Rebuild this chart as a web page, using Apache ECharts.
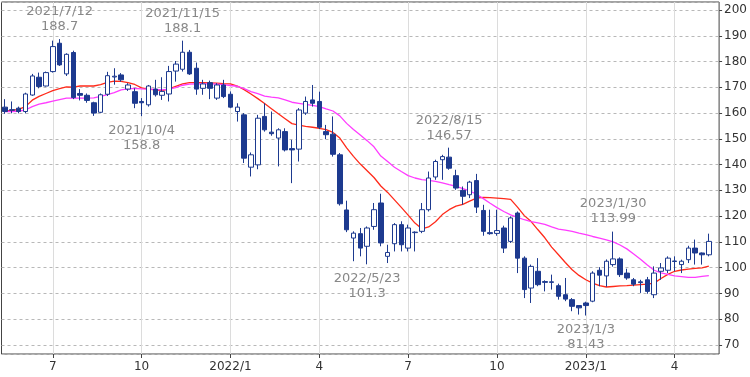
<!DOCTYPE html>
<html lang="ja">
<head>
<meta charset="UTF-8">
<title>週足チャート</title>
<script src="https://cdn.jsdelivr.net/npm/echarts@6/dist/echarts.min.js"></script>
<style>html,body{margin:0;padding:0;background:#fff;}</style>
</head>
<body>
<div id="main" style="width:750px;height:377px;"></div>
<script>
// weekly candles, Monday dates from 2021/5/17 to 2023/5/8
var dates = [];
var d = new Date(Date.UTC(2021, 4, 17));
for (var i = 0; i < 104; i++) {
    dates.push(d.getUTCFullYear() + '/' + (d.getUTCMonth() + 1) + '/' + d.getUTCDate());
    d.setUTCDate(d.getUTCDate() + 7);
}

var opens = [
    162.3, 161.3, 161.9, 160.6, 167.0, 173.9, 170.5, 176.1, 187.1, 175.2,
    183.5, 167.6, 166.9, 164.0, 160.3, 167.3, 174.0, 174.8, 169.3, 168.3,
    164.5, 163.2, 169.3, 166.9, 167.4, 176.3, 177.0, 183.6, 177.4, 169.6,
    171.8, 165.8, 170.9, 167.3, 160.6, 159.3, 139.0, 139.9, 158.7, 152.6,
    150.3, 152.8, 146.2, 146.0, 160.0, 165.1, 164.5, 152.8, 151.8, 143.8,
    122.4, 111.5, 113.2, 108.3, 116.0, 125.1, 104.4, 109.3, 116.7, 107.6,
    113.6, 114.1, 122.5, 135.2, 141.9, 142.9, 135.7, 130.0, 128.3, 133.8,
    122.2, 113.6, 113.3, 115.4, 110.2, 121.2, 103.7, 92.1, 98.6, 94.6,
    94.5, 93.0, 89.5, 87.6, 85.3, 86.3, 87.0, 99.0, 96.8, 101.2,
    103.4, 97.9, 95.3, 94.5, 95.3, 89.5, 98.6, 99.0, 102.6, 101.2,
    103.1, 107.6, 105.7, 105.0
];
var closes = [
    160.6, 161.1, 160.6, 167.4, 174.4, 170.3, 175.7, 185.8, 178.7, 182.8,
    166.0, 166.9, 164.9, 160.0, 167.1, 174.5, 174.3, 172.9, 170.9, 163.8,
    164.0, 170.5, 167.1, 168.4, 176.1, 179.0, 183.6, 175.2, 169.3, 171.3,
    169.6, 170.9, 166.4, 162.3, 162.3, 142.5, 143.8, 158.0, 153.5, 152.0,
    153.5, 145.7, 145.7, 161.2, 164.5, 163.8, 154.5, 151.6, 144.0, 124.8,
    114.7, 113.4, 107.6, 115.4, 122.5, 109.6, 105.9, 116.7, 108.9, 115.4,
    113.8, 122.5, 134.8, 141.2, 143.1, 138.6, 130.9, 127.7, 133.2, 123.5,
    114.1, 113.2, 114.4, 107.6, 119.3, 103.7, 91.5, 100.5, 93.4, 94.3,
    94.3, 88.9, 87.8, 85.0, 84.4, 85.3, 97.9, 97.1, 102.5, 103.4,
    97.3, 96.0, 93.6, 94.2, 90.8, 97.9, 99.9, 103.7, 102.4, 102.5,
    107.6, 105.7, 105.0, 110.2
];
var lows = [
    159.7, 159.9, 159.9, 159.9, 166.7, 169.6, 170.3, 175.7, 178.3, 174.4,
    165.4, 164.9, 164.0, 158.9, 160.0, 166.6, 171.0, 172.2, 168.6, 161.9,
    158.8, 162.5, 166.4, 165.1, 164.5, 172.2, 176.1, 174.8, 167.1, 167.1,
    165.4, 165.1, 165.8, 161.9, 156.7, 140.6, 135.4, 138.2, 152.8, 151.2,
    139.3, 145.1, 132.8, 141.2, 159.3, 162.5, 153.8, 149.9, 143.1, 124.1,
    113.8, 102.5, 104.4, 101.3, 114.7, 108.3, 101.8, 106.3, 106.3, 106.3,
    106.3, 113.4, 121.8, 134.1, 134.1, 138.0, 130.2, 124.4, 127.0, 121.2,
    112.4, 112.8, 112.4, 105.7, 109.6, 97.9, 88.2, 86.3, 92.8, 90.8,
    91.5, 87.6, 87.0, 83.1, 81.8, 81.43, 86.6, 92.8, 92.6, 100.4,
    96.4, 95.3, 92.8, 90.2, 89.9, 88.2, 95.3, 97.9, 98.6, 97.9,
    101.8, 101.2, 101.2, 104.4
];
var highs = [
    165.4, 164.5, 162.5, 167.9, 175.2, 175.7, 176.1, 188.1, 188.7, 183.2,
    184.2, 169.3, 167.6, 164.4, 167.6, 176.0, 177.4, 175.5, 171.6, 169.6,
    165.8, 170.9, 172.9, 173.9, 178.3, 180.2, 188.1, 184.5, 179.6, 172.9,
    172.6, 171.6, 172.9, 168.4, 163.8, 160.0, 144.7, 159.3, 163.8, 160.6,
    154.1, 154.1, 149.6, 161.9, 166.4, 170.9, 168.3, 155.4, 158.7, 144.5,
    126.0, 114.1, 115.4, 116.0, 125.1, 128.7, 108.9, 117.3, 118.0, 116.7,
    114.1, 125.1, 137.3, 141.9, 143.8, 146.57, 138.0, 131.5, 133.7, 136.4,
    124.4, 122.5, 122.5, 116.3, 119.9, 121.8, 104.4, 101.2, 103.7, 95.1,
    97.3, 93.8, 96.0, 88.2, 85.3, 86.8, 98.6, 100.2, 103.2, 113.99,
    104.0, 99.6, 96.0, 95.3, 96.4, 100.5, 101.8, 104.4, 104.4, 103.1,
    108.5, 110.9, 105.9, 113.2
];

var maShort = [
    160.8, 161.0, 161.4, 162.5, 165.0, 166.5, 167.6, 168.7, 169.5, 170.2,
    170.1, 170.5, 170.5, 170.5, 171.0, 171.9, 172.4, 172.3, 171.8, 171.1,
    169.8, 169.3, 169.0, 168.7, 169.4, 170.4, 171.3, 171.8, 171.8, 171.8,
    171.7, 171.6, 171.4, 171.3, 170.5, 169.1, 167.4, 165.6, 163.7, 161.7,
    159.7, 157.8, 155.9, 155.3, 154.8, 154.5, 154.1, 153.6, 152.5, 150.3,
    146.5, 143.2, 140.2, 137.6, 135.0, 131.7, 129.2, 126.3, 123.4, 120.4,
    117.3, 115.1, 115.8, 117.8, 120.6, 122.5, 123.9, 124.6, 125.8, 127.0,
    127.3, 127.2, 127.0, 126.8, 126.5, 123.5, 120.2, 117.9, 114.7, 111.6,
    108.0, 105.0, 102.0, 99.2, 97.0, 95.3, 94.0, 93.0, 92.5, 92.7,
    92.9, 93.0, 93.2, 93.4, 93.6, 94.0, 95.8, 97.4, 98.6, 99.1,
    99.4, 99.7, 99.9, 100.6
];
var maLong = [
    160.6, 160.6, 160.7, 161.2, 162.5, 163.5, 164.0, 164.6, 165.2, 165.8,
    165.8, 165.8, 165.8, 165.9, 166.5, 167.2, 167.9, 169.0, 169.4, 169.6,
    169.4, 169.3, 169.2, 169.0, 169.3, 169.9, 170.8, 171.2, 171.3, 171.3,
    171.3, 171.2, 171.0, 170.7, 170.4, 169.5, 168.3, 167.5, 166.6, 166.2,
    165.9, 165.1, 164.2, 163.8, 163.4, 163.0, 162.5, 161.6, 160.8, 158.9,
    156.0, 153.6, 151.5, 149.3, 146.9, 143.3, 141.2, 139.0, 137.3, 135.7,
    134.8, 134.2, 133.9, 133.5, 132.9, 132.2, 131.6, 130.7, 129.8, 128.5,
    126.8, 125.0, 123.3, 121.8, 120.5, 119.5, 118.6, 117.9, 117.4, 116.8,
    115.8, 115.0, 114.6, 114.1, 113.4, 112.8, 112.1, 111.5, 110.8, 110.0,
    108.8, 107.3, 105.3, 103.3, 101.0, 99.0, 98.0, 97.4, 96.8, 96.5,
    96.2, 96.2, 96.6, 96.9
];

// quarter ticks on the x axis
var tickDates = ['2021/7/5', '2021/10/4', '2022/1/3', '2022/4/4', '2022/7/4', '2022/10/3', '2023/1/2', '2023/4/3'];
var tickLabels = ['7', '10', '2022/1', '4', '7', '10', '2023/1', '4'];

// high / low notes
var noteDates = ['2021/7/12', '2021/11/15', '2021/10/4', '2022/5/23', '2022/8/15', '2023/1/2', '2023/1/30'];
var noteNames = ['2021/7/12', '2021/11/15', '2021/10/4', '2022/5/23', '2022/8/15', '2023/1/3', '2023/1/30'];
var noteValues = ['188.7', '188.1', '158.8', '101.3', '146.57', '81.43', '113.99'];
var noteSides = ['top', 'top', 'bottom', 'bottom', 'top', 'bottom', 'top'];

var cats = dates.concat(['']);
var candles = [];
for (var i = 0; i < dates.length; i++) {
    candles.push([opens[i], closes[i], lows[i], highs[i]]);
}
var tickMap = {};
for (var i = 0; i < tickDates.length; i++) tickMap[tickDates[i]] = tickLabels[i];
function isTick(idx, val) { return tickMap[val] !== undefined; }

var notes = [];
for (var i = 0; i < noteDates.length; i++) {
    var v = parseFloat(noteValues[i]);
    notes.push({
        coord: [noteDates[i], v],
        label: {
            show: true,
            position: noteSides[i],
            distance: noteSides[i] == 'top' ? 5 : 7,
            formatter: noteNames[i] + '\n' + noteValues[i]
        }
    });
}

var navy = '#1d3a8f';
var myChart = echarts.init(document.getElementById('main'));
var option = {
    animation: false,
    backgroundColor: '#fff',
    grid: {
        left: 1.5, right: 29.7, top: 2, bottom: 23,
        show: true, borderColor: '#444', borderWidth: 1
    },
    xAxis: {
        type: 'category',
        data: cats,
        boundaryGap: true,
        axisLine: {show: false},
        axisTick: {show: true, interval: isTick, alignWithLabel: true, length: 4, lineStyle: {color: '#444'}},
        axisLabel: {
            interval: isTick, margin: 7, color: '#333', fontSize: 12, fontFamily: 'DejaVu Sans',
            formatter: function (val) { return tickMap[val] || ''; }
        },
        splitLine: {show: true, interval: isTick, alignWithLabel: true, lineStyle: {color: '#dcdcdc'}}
    },
    yAxis: {
        type: 'value',
        position: 'right',
        min: 66.5,
        max: 203.1,
        splitNumber: 13,
        axisLine: {show: false},
        axisTick: {show: true, length: 3, lineStyle: {color: '#444'}},
        axisLabel: {color: '#333', fontSize: 12, fontFamily: 'DejaVu Sans', margin: 5, showMinLabel: false, showMaxLabel: false},
        splitLine: {show: true, lineStyle: {color: '#b8b8b8', type: [3, 3]}}
    },
    series: [
        {
            name: 'MA13',
            type: 'line',
            data: maShort,
            symbol: 'none',
            lineStyle: {color: '#ff2a1a', width: 1.3},
            z: 3
        },
        {
            name: 'MA26',
            type: 'line',
            data: maLong,
            symbol: 'none',
            lineStyle: {color: '#ff3cff', width: 1.3},
            z: 3
        },
        {
            name: '週足',
            type: 'candlestick',
            data: candles,
            barWidth: 5,
            z: 4,
            itemStyle: {
                color: '#ffffff',
                color0: navy,
                borderColor: navy,
                borderColor0: navy,
                borderWidth: 1
            },
            markPoint: {
                symbol: 'circle',
                symbolSize: 0,
                label: {color: '#888', fontSize: 13, fontFamily: 'DejaVu Sans', lineHeight: 15, align: 'center'},
                data: notes
            }
        }
    ]
};
myChart.setOption(option);
</script>
</body>
</html>
